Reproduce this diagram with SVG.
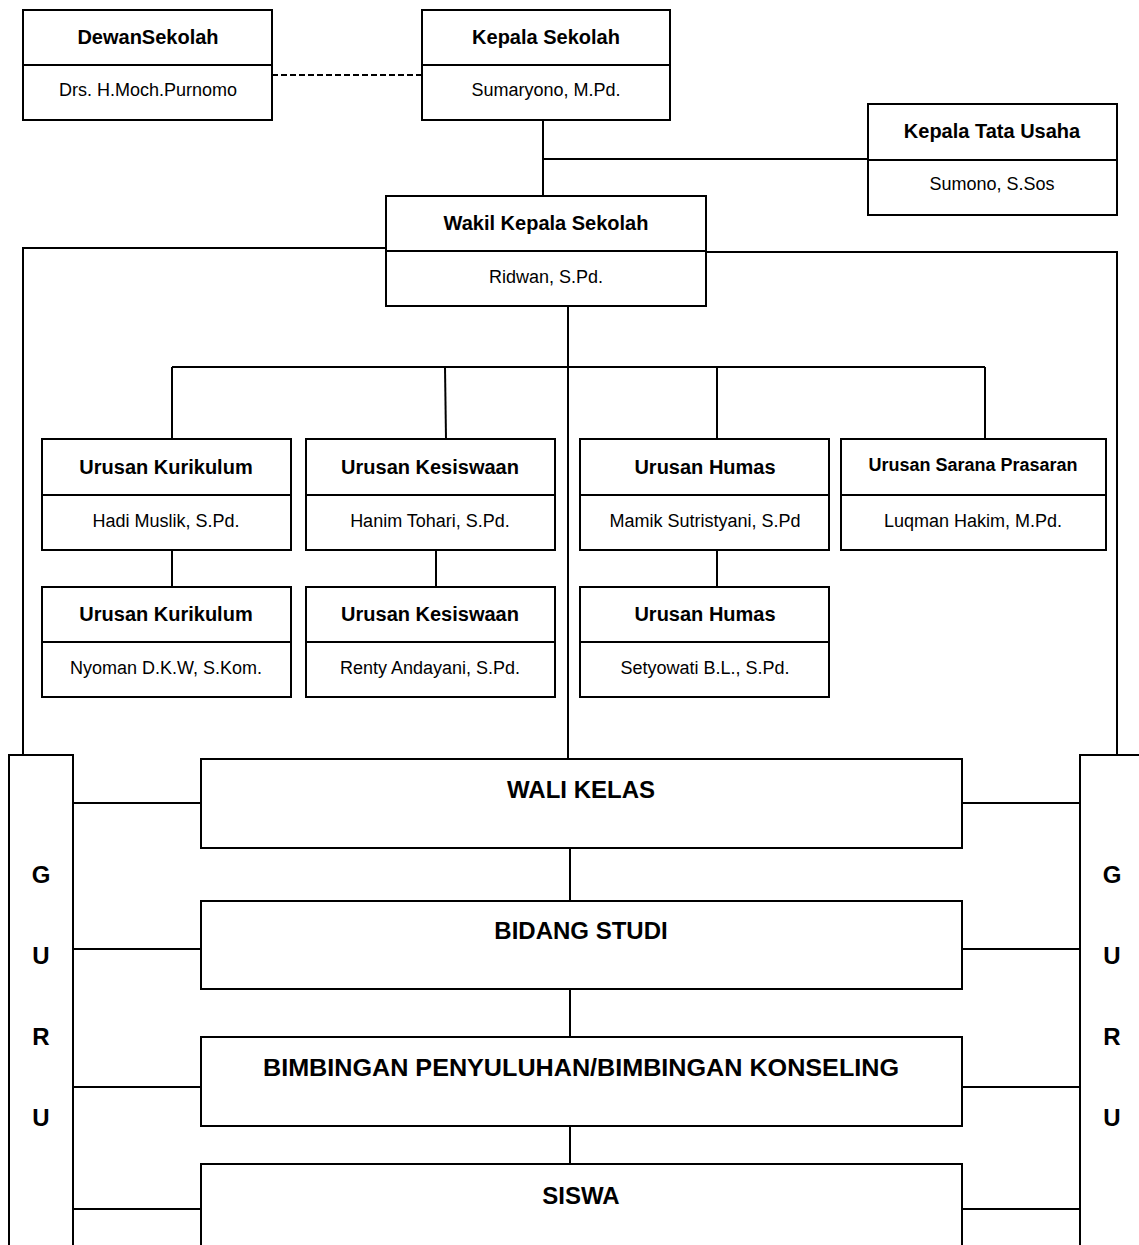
<svg xmlns="http://www.w3.org/2000/svg" width="1139" height="1245" viewBox="0 0 1139 1245">
<style>
.b{fill:#fff;stroke:#000;stroke-width:2}
.d{stroke:#000;stroke-width:2}
.c{fill:none;stroke:#000;stroke-width:2}
.t{font-family:"Liberation Sans",Arial,sans-serif;font-weight:bold;font-size:20px;text-anchor:middle;dominant-baseline:central;fill:#000}
.n{font-family:"Liberation Sans",Arial,sans-serif;font-size:18px;text-anchor:middle;dominant-baseline:central;fill:#000}
.big{font-family:"Liberation Sans",Arial,sans-serif;font-weight:bold;font-size:24px;text-anchor:middle;dominant-baseline:central;fill:#000}
</style>
<rect width="1139" height="1245" fill="#fff"/>
<g id="connectors">
<line class="c" x1="272" y1="75" x2="422" y2="75" stroke-dasharray="6,3"/>
<line class="c" x1="543" y1="120" x2="543" y2="196"/>
<line class="c" x1="543" y1="159" x2="868" y2="159"/>
<polyline class="c" points="386,248 23,248 23,755"/>
<polyline class="c" points="706,252 1117,252 1117,755"/>
<line class="c" x1="568" y1="306" x2="568" y2="759"/>
<line class="c" x1="172" y1="367" x2="985" y2="367"/>
<line class="c" x1="172" y1="367" x2="172" y2="439"/>
<line class="c" x1="445" y1="367" x2="446" y2="439"/>
<line class="c" x1="717" y1="367" x2="717" y2="439"/>
<line class="c" x1="985" y1="367" x2="985" y2="439"/>
<line class="c" x1="172" y1="550" x2="172" y2="587"/>
<line class="c" x1="436" y1="550" x2="436" y2="587"/>
<line class="c" x1="717" y1="550" x2="717" y2="587"/>
<line class="c" x1="570" y1="848" x2="570" y2="901"/>
<line class="c" x1="570" y1="989" x2="570" y2="1037"/>
<line class="c" x1="570" y1="1126" x2="570" y2="1164"/>
<line class="c" x1="73" y1="803" x2="201" y2="803"/>
<line class="c" x1="73" y1="949" x2="201" y2="949"/>
<line class="c" x1="73" y1="1087" x2="201" y2="1087"/>
<line class="c" x1="73" y1="1209" x2="201" y2="1209"/>
<line class="c" x1="962" y1="803" x2="1080" y2="803"/>
<line class="c" x1="962" y1="949" x2="1080" y2="949"/>
<line class="c" x1="962" y1="1087" x2="1080" y2="1087"/>
<line class="c" x1="962" y1="1209" x2="1080" y2="1209"/>
</g>
<g id="dewan">
<rect class="b" x="23" y="10" width="249" height="110"/>
<line class="d" x1="23" y1="65" x2="272" y2="65"/>
<text class="t" x="148" y="37">DewanSekolah</text>
<text class="n" x="148" y="90">Drs. H.Moch.Purnomo</text>
</g>
<g id="kepala">
<rect class="b" x="422" y="10" width="248" height="110"/>
<line class="d" x1="422" y1="65" x2="670" y2="65"/>
<text class="t" x="546" y="37">Kepala Sekolah</text>
<text class="n" x="546" y="90">Sumaryono, M.Pd.</text>
</g>
<g id="tatausaha">
<rect class="b" x="868" y="104" width="249" height="111"/>
<line class="d" x1="868" y1="160" x2="1117" y2="160"/>
<text class="t" x="992" y="131">Kepala Tata Usaha</text>
<text class="n" x="992" y="184">Sumono, S.Sos</text>
</g>
<g id="wakil">
<rect class="b" x="386" y="196" width="320" height="110"/>
<line class="d" x1="386" y1="251" x2="706" y2="251"/>
<text class="t" x="546" y="223">Wakil Kepala Sekolah</text>
<text class="n" x="546" y="277">Ridwan, S.Pd.</text>
</g>
<g id="kurikulum1">
<rect class="b" x="42" y="439" width="249" height="111"/>
<line class="d" x1="42" y1="495" x2="291" y2="495"/>
<text class="t" x="166" y="467">Urusan Kurikulum</text>
<text class="n" x="166" y="521">Hadi Muslik, S.Pd.</text>
</g>
<g id="kesiswaan1">
<rect class="b" x="306" y="439" width="249" height="111"/>
<line class="d" x1="306" y1="495" x2="555" y2="495"/>
<text class="t" x="430" y="467">Urusan Kesiswaan</text>
<text class="n" x="430" y="521">Hanim Tohari, S.Pd.</text>
</g>
<g id="humas1">
<rect class="b" x="580" y="439" width="249" height="111"/>
<line class="d" x1="580" y1="495" x2="829" y2="495"/>
<text class="t" x="705" y="467">Urusan Humas</text>
<text class="n" x="705" y="521">Mamik Sutristyani, S.Pd</text>
</g>
<g id="sarana">
<rect class="b" x="841" y="439" width="265" height="111"/>
<line class="d" x1="841" y1="495" x2="1106" y2="495"/>
<text class="t" x="973" y="465" style="font-size:18px">Urusan Sarana Prasaran</text>
<text class="n" x="973" y="521">Luqman Hakim, M.Pd.</text>
</g>
<g id="kurikulum2">
<rect class="b" x="42" y="587" width="249" height="110"/>
<line class="d" x1="42" y1="642" x2="291" y2="642"/>
<text class="t" x="166" y="614">Urusan Kurikulum</text>
<text class="n" x="166" y="668">Nyoman D.K.W, S.Kom.</text>
</g>
<g id="kesiswaan2">
<rect class="b" x="306" y="587" width="249" height="110"/>
<line class="d" x1="306" y1="642" x2="555" y2="642"/>
<text class="t" x="430" y="614">Urusan Kesiswaan</text>
<text class="n" x="430" y="668">Renty Andayani, S.Pd.</text>
</g>
<g id="humas2">
<rect class="b" x="580" y="587" width="249" height="110"/>
<line class="d" x1="580" y1="642" x2="829" y2="642"/>
<text class="t" x="705" y="614">Urusan Humas</text>
<text class="n" x="705" y="668">Setyowati B.L., S.Pd.</text>
</g>
<g id="guru-left">
<rect class="b" x="9" y="755" width="64" height="500"/>
<text class="big" x="41" y="874">G</text>
<text class="big" x="41" y="955">U</text>
<text class="big" x="41" y="1036">R</text>
<text class="big" x="41" y="1117">U</text>
</g>
<g id="guru-right">
<rect class="b" x="1080" y="755" width="70" height="500"/>
<text class="big" x="1112" y="874">G</text>
<text class="big" x="1112" y="955">U</text>
<text class="big" x="1112" y="1036">R</text>
<text class="big" x="1112" y="1117">U</text>
</g>
<g id="walikelas">
<rect class="b" x="201" y="759" width="761" height="89"/>
<text class="big" x="581" y="789">WALI KELAS</text>
</g>
<g id="bidangstudi">
<rect class="b" x="201" y="901" width="761" height="88"/>
<text class="big" x="581" y="930">BIDANG STUDI</text>
</g>
<g id="bimbingan">
<rect class="b" x="201" y="1037" width="761" height="89"/>
<text class="big" x="581" y="1067" textLength="636" lengthAdjust="spacingAndGlyphs">BIMBINGAN PENYULUHAN/BIMBINGAN KONSELING</text>
</g>
<g id="siswa">
<rect class="b" x="201" y="1164" width="761" height="100"/>
<text class="big" x="581" y="1195">SISWA</text>
</g>
</svg>
